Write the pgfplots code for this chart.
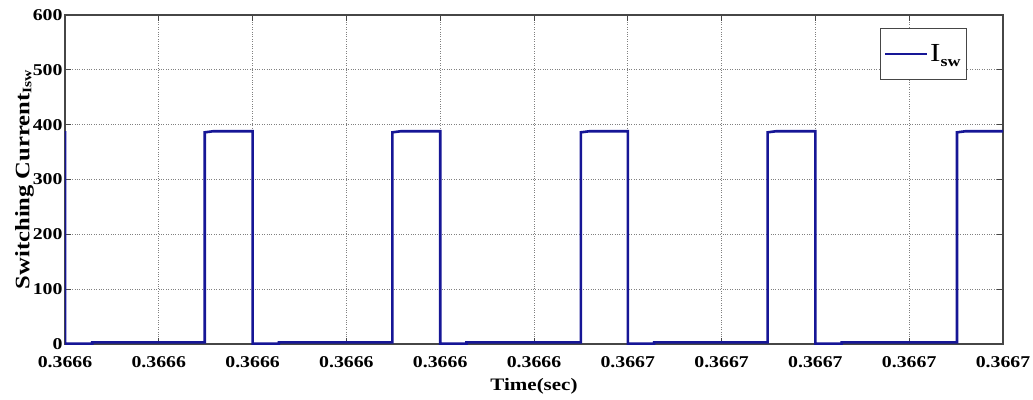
\documentclass[border=0pt]{standalone}
\usepackage{pgfplots}
\pgfplotsset{compat=1.18}
\usepackage{fontspec}
\setmainfont{Liberation Serif}[FakeStretch=1.2]
\definecolor{isw}{RGB}{22,22,150}
\definecolor{axgray}{RGB}{70,70,70}
\begin{document}
\begin{tikzpicture}
\path[use as bounding box] (-65pt,-55pt) rectangle (968pt,344pt);
\begin{axis}[
  at={(0pt,0pt)}, anchor=south west,
  scale only axis,
  width=938pt, height=329pt,
  xmin=0, xmax=10, ymin=0, ymax=600,
  xtick={0,1,2,3,4,5,6,7,8,9,10},
  xticklabels={0.3666,0.3666,0.3666,0.3666,0.3666,0.3666,0.3667,0.3667,0.3667,0.3667,0.3667},
  ytick={0,100,200,300,400,500,600},
  /pgf/number format/assume math mode=true,
  tick label style={font=\bfseries\fontsize{16.5}{16.5}\selectfont},
  xticklabel style={yshift=-9pt},
  yticklabel style={xshift=1pt},
  tick align=inside,
  major tick length=6pt,
  tick style={axgray, line width=1pt},
  axis line style={axgray, line width=1.2pt},
  grid=major,
  major grid style={gray, dotted, line width=0.8pt},
  xlabel={\bfseries\fontsize{17.5}{17.5}\selectfont Time(sec)},
  xlabel style={yshift=-4pt},
  ylabel={\bfseries\fontsize{20.5}{20.5}\selectfont Switching Current\raisebox{-0.2ex}{\fontsize{13}{13}\selectfont Isw}},
  ylabel style={yshift=-8pt},
  legend style={at={(0.9616,0.9605)}, anchor=north east, draw=axgray, line width=0.8pt,
    inner xsep=4pt, inner ysep=14pt, font=\fontsize{26}{26}\selectfont},
  legend cell align=left,
  legend image code/.code={\draw[#1, line width=1.8pt] (0pt,0pt) -- (42pt,0pt);},
]
\addplot[isw, line width=2.6pt, line join=miter] coordinates {
(0,388) (0,0.8) (0.29,0.8) (0.29,3) (1.49,3) (1.49,386) (1.58,388) (2.0,388)
(2.0,0.8) (2.28,0.8) (2.28,3) (3.49,3) (3.49,386) (3.58,388) (4.0,388)
(4.0,0.8) (4.28,0.8) (4.28,3) (5.50,3) (5.50,386) (5.59,388) (6.0,388)
(6.0,0.8) (6.28,0.8) (6.28,3) (7.49,3) (7.49,386) (7.58,388) (8.0,388)
(8.0,0.8) (8.28,0.8) (8.28,3) (9.51,3) (9.51,386) (9.6,388) (10,388)
};
\addlegendentry{I\raisebox{-0.45ex}{\bfseries\fontsize{15}{15}\selectfont sw}}
\end{axis}
\end{tikzpicture}
\end{document}
